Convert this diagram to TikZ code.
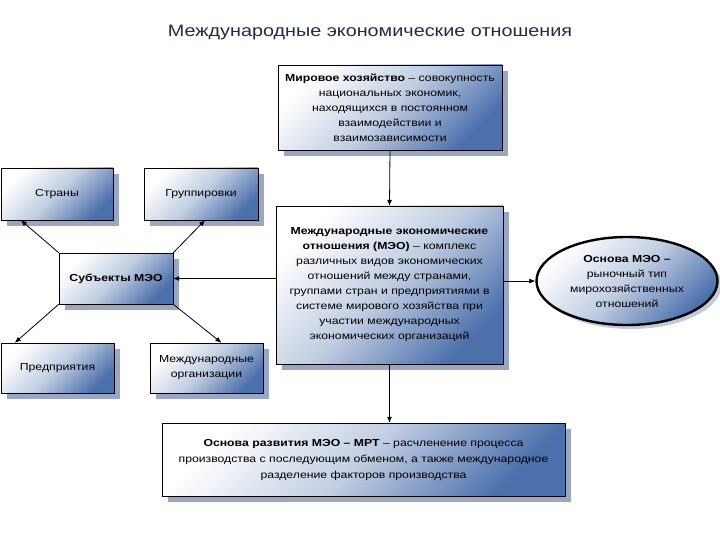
\documentclass[tikz,border=0pt]{standalone}
\usepackage{fontspec}
\setmainfont[FakeStretch=1.2]{Liberation Sans}
\usetikzlibrary{arrows.meta, positioning, shapes.geometric, shadows}
\definecolor{mblue}{HTML}{4C70AC}
\definecolor{mshade}{HTML}{9AA6C2}
\definecolor{mtitle}{HTML}{1E2C44}
\tikzset{
  sbox/.style={draw=black, thin, top color=white, bottom color=mblue, middle color=mblue!35!white,
               shading angle=45, align=center, inner sep=3pt, font=\fontsize{10.2}{15}\selectfont,
               drop shadow={shadow xshift=6pt, shadow yshift=-6pt, fill=mshade, opacity=1}},
  obox/.style={ellipse, draw=black, line width=2.4pt, top color=white, bottom color=mblue,
               middle color=mblue!35!white, shading angle=45, align=center, inner sep=0pt,
               font=\fontsize{10.2}{15}\selectfont,
               drop shadow={shadow xshift=4pt, shadow yshift=-4pt, fill=mshade, opacity=0.6}},
  arr/.style={-{Latex[length=6pt,width=5pt]}, line width=0.8pt, black},
}
\begin{document}
\begin{tikzpicture}[x=1pt, y=-1pt]
  \useasboundingbox (0,0) rectangle (720,540);
  %% Title
  \node[font=\fontsize{16.5}{18}\selectfont, text=mtitle] (title) at (370,33)
    {Международные экономические отношения};

  %% World economy
  \node[sbox, minimum width=224pt, minimum height=85pt] (mir) at (390,107.5)
    {\textbf{Мировое хозяйство} -- совокупность\\ национальных экономик,\\
     находящихся в постоянном\\ взаимодействии и\\ взаимозависимости};

  %% Subjects and their kinds
  \node[sbox, minimum width=112pt, minimum height=52pt] (strany) at (57,194) {Страны};
  \node[sbox, minimum width=114pt, minimum height=52pt] (grupp) at (201,194) {Группировки};
  \node[sbox, minimum width=114pt, minimum height=51pt] (subj) at (116,278.5)
    {\textbf{Субъекты МЭО}};
  \node[sbox, minimum width=113pt, minimum height=50pt] (predpr) at (57.5,368) {Предприятия};
  \node[sbox, minimum width=113pt, minimum height=50pt] (morg) at (206.5,368)
    {Международные\\ организации};

  %% Central box
  \node[sbox, minimum width=227pt, minimum height=158pt] (meo) at (389.5,285)
    {\textbf{Международные экономические}\\ \textbf{отношения (МЭО)} -- комплекс\\
     различных видов экономических\\ отношений между странами,\\
     группами стран и предприятиями в\\ системе мирового хозяйства при\\
     участии международных\\ экономических организаций};

  %% Basis (oval)
  \node[obox, minimum width=181pt, minimum height=88pt] (osn) at (627,281)
    {\textbf{Основа МЭО --}\\ рыночный тип\\ мирохозяйственных\\ отношений};

  %% Development basis
  \node[sbox, minimum width=403pt, minimum height=73pt, font=\fontsize{10.2}{16}\selectfont]
    (razv) at (363.5,459.5)
    {\textbf{Основа развития МЭО -- МРТ} -- расчленение процесса\\
     производства с последующим обменом, а также международное\\
     разделение факторов производства};

  \draw[arr] (mir.south) -- (meo.north);
  \draw[arr] (meo.west |- subj) -- (subj.east);
  \draw[arr] (meo.east |- osn) -- (osn.west);
  \draw[arr] (meo.south) -- (meo.south |- razv.north);
  \draw[arr] (subj.north west) -- ([xshift=20pt]strany.south west);
  \draw[arr] (subj.north east) -- ([xshift=4pt]grupp.south);
  \draw[arr] (subj.south west) -- ([xshift=14pt]predpr.north west);
  \draw[arr] (subj.south east) -- ([xshift=15pt]morg.north);
\end{tikzpicture}
\end{document}
